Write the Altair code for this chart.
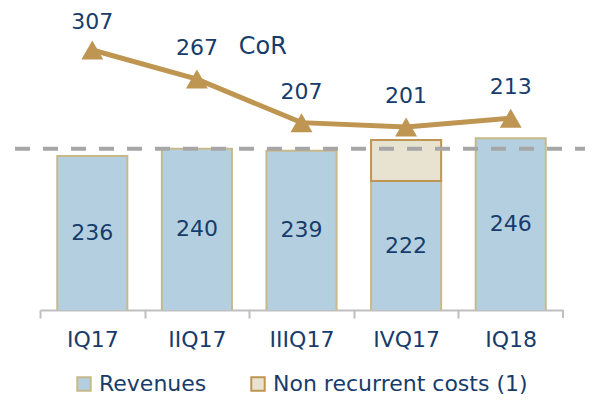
import altair as alt
import pandas as pd

# ---- data ----
quarters = ["IQ17", "IIQ17", "IIIQ17", "IVQ17", "IQ18"]
revenues = [236, 240, 239, 222, 246]
non_recurrent = [None, None, None, 23, None]
cor = [307, 267, 207, 201, 213]
series_names = ["Revenues", "Non recurrent costs (1)"]
reference_level = 240

# ---- styling ----
FONT = "DejaVu Sans"
TXT = "#173C6B"
BLUE = "#B4D0E0"
BLUE_EDGE = "#C8B98A"
BEIGE = "#E8E3D1"
GOLD = "#BF9552"
AXIS = "#BFBFBF"
W, H = 523, 292
BAR_DOMAIN = [150, 313.1]
COR_DOMAIN = [-51, 351.1]

rows = []
for q, r, n in zip(quarters, revenues, non_recurrent):
    rows.append({"quarter": q, "series": series_names[0], "value": r, "ord": 0})
    if n is not None:
        rows.append({"quarter": q, "series": series_names[1], "value": n, "ord": 1})
bars_df = pd.DataFrame(rows)
rev_df = pd.DataFrame({"quarter": quarters, "value": revenues})
cor_df = pd.DataFrame({"quarter": quarters, "cor": cor})
one_row = pd.DataFrame({"k": [0]})

step = W / 5.0
x_enc = alt.X(
    "quarter:N",
    sort=quarters,
    scale=alt.Scale(paddingInner=0.33, paddingOuter=0.165),
    axis=alt.Axis(
        title=None, labelAngle=0, labelFont=FONT, labelFontSize=22, labelColor=TXT,
        domainColor=AXIS, domainWidth=2, tickColor=AXIS, tickWidth=2, tickSize=8,
        tickOffset=-step / 2, labelOffset=step / 2, labelPadding=11, grid=False,
    ),
)
y_bar = alt.Scale(domain=BAR_DOMAIN, zero=False, nice=False)
y_cor = alt.Scale(domain=COR_DOMAIN, zero=False, nice=False)

legend = alt.Legend(
    title=None, orient="none", legendX=33, legendY=355, direction="horizontal",
    symbolType="square", symbolSize=180, symbolStrokeWidth=2,
    labelFont=FONT, labelFontSize=22, labelColor=TXT, labelLimit=500,
    labelOffset=4, columnPadding=40, padding=0,
)

bars = alt.Chart(bars_df).mark_bar(clip=True, strokeWidth=2).encode(
    x=x_enc,
    y=alt.Y("value:Q", stack="zero", scale=y_bar, axis=None),
    order=alt.Order("ord:Q"),
    fill=alt.Fill("series:N", scale=alt.Scale(domain=series_names, range=[BLUE, BEIGE]), legend=legend),
    stroke=alt.Stroke("series:N", scale=alt.Scale(domain=series_names, range=[BLUE_EDGE, GOLD]), legend=legend),
)

bar_labels = alt.Chart(rev_df).transform_calculate(
    mid="(datum.value + %f) / 2" % BAR_DOMAIN[0]
).mark_text(font=FONT, fontSize=22, color=TXT, baseline="middle").encode(
    x=x_enc,
    y=alt.Y("mid:Q", scale=y_bar, axis=None),
    text=alt.Text("value:Q"),
)

dashed = alt.Chart(one_row).mark_rule(
    color="#A6A6A6", strokeWidth=4, strokeDash=[15, 13], clip=False
).encode(
    y=alt.Y(datum=reference_level, scale=y_bar, axis=None),
    x=alt.value(-25),
    x2=alt.value(W + 40),
)

end_tick = alt.Chart(one_row).mark_rule(color=AXIS, strokeWidth=2).encode(
    x=alt.value(W), y=alt.value(H), y2=alt.value(H + 8)
)

bar_layer = alt.layer(bars, bar_labels, dashed, end_tick)

line = alt.Chart(cor_df).mark_line(color=GOLD, strokeWidth=5).encode(
    x=x_enc,
    y=alt.Y("cor:Q", scale=y_cor, axis=None),
)
points = alt.Chart(cor_df).mark_point(
    shape="triangle-up", size=480, filled=True, color=GOLD, opacity=1
).encode(
    x=x_enc,
    y=alt.Y("cor:Q", scale=y_cor, axis=None),
)
cor_labels = alt.Chart(cor_df).transform_filter(
    alt.datum.quarter != quarters[0]
).mark_text(
    font=FONT, fontSize=22, color=TXT, baseline="alphabetic", dy=-24
).encode(
    x=x_enc,
    y=alt.Y("cor:Q", scale=y_cor, axis=None),
    text=alt.Text("cor:Q"),
)
cor_label_first = alt.Chart(cor_df).transform_filter(
    alt.datum.quarter == quarters[0]
).mark_text(
    font=FONT, fontSize=22, color=TXT, baseline="alphabetic", dy=-21
).encode(
    x=x_enc,
    y=alt.Y("cor:Q", scale=y_cor, axis=None),
    text=alt.Text("cor:Q"),
)
cor_title = alt.Chart(cor_df).transform_filter(
    alt.datum.quarter == quarters[1]
).mark_text(
    font=FONT, fontSize=24, color=TXT, baseline="alphabetic", dy=-25, dx=66
).encode(
    x=x_enc,
    y=alt.Y("cor:Q", scale=y_cor, axis=None),
    text=alt.value("CoR"),
)

line_layer = alt.layer(line, points, cor_labels, cor_label_first, cor_title)

chart = alt.layer(bar_layer, line_layer).resolve_scale(
    y="independent"
).properties(
    width=W, height=H,
    padding={"left": 32, "top": 10, "right": 22, "bottom": 86},
    autosize=alt.AutoSizeParams(type="none"),
).configure_view(stroke=None)

chart.save("out.html", embed_options={"renderer": "svg", "actions": False})
